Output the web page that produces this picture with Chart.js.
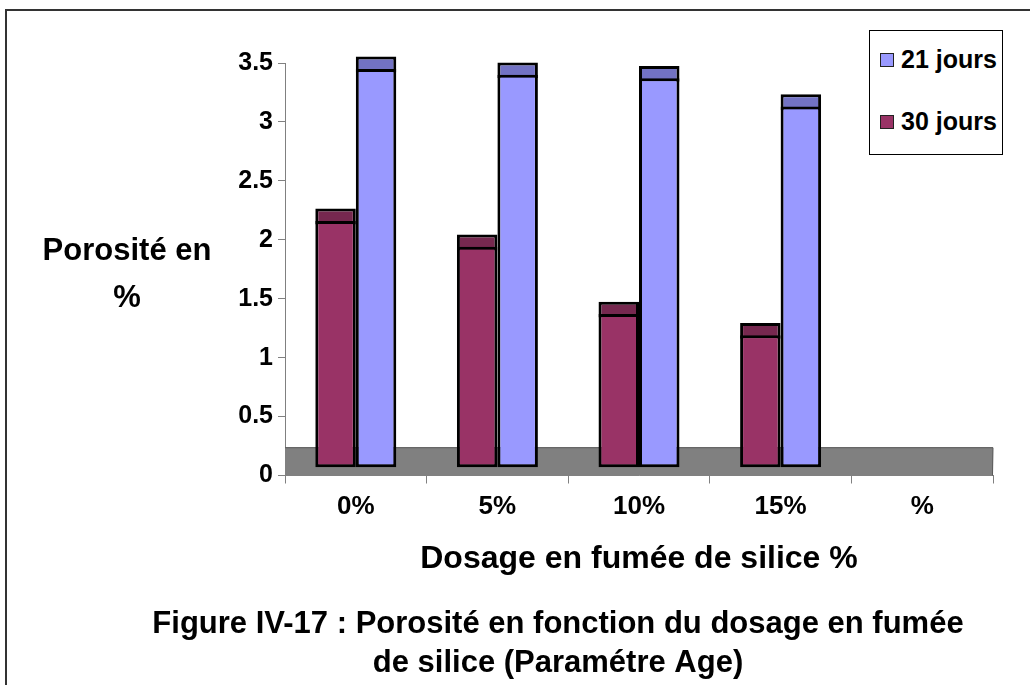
<!DOCTYPE html>
<html>
<head>
<meta charset="utf-8">
<script src="https://cdn.jsdelivr.net/npm/chart.js@4/dist/chart.umd.min.js"></script>
<style>
    html, body { margin: 0; padding: 0; background: #fff; overflow: hidden; }
    #wrap { position: relative; width: 1030px; height: 685px; }
    #frame { position: absolute; left: 5px; top: 9px; width: 1100px; height: 800px;
             border: 2px solid #333; pointer-events: none; }
    #legend { position: absolute; left: 869px; top: 30px; width: 132px; height: 123px;
              border: 1px solid #000; background: #fff;
              font: bold 25px "Liberation Sans", Arial, sans-serif; color: #000; }
    #legend div { position: absolute; left: 10px; height: 28px; line-height: 28px; white-space: nowrap; }
    #legend span { display: inline-block; width: 12px; height: 12px; border: 1.5px solid #222;
                   margin-right: 7px; vertical-align: 1px; }
</style>
</head>
<body>
<div id="wrap">
    <canvas id="chart" width="1030" height="685"></canvas>
    <div id="legend"></div>
    <div id="frame"></div>
</div>
<script>
const categories = ['0%', '5%', '10%', '15%', '%'];
const jours21 = [3.45, 3.40, 3.37, 3.13, null];
const jours30 = [2.16, 1.94, 1.37, 1.19, null];
const legendLabels = ['21 jours', '30 jours'];

// 3D look of the old spreadsheet chart
const barBase = 0.07;
const capDepth = 0.105;
const capOverlap = 0.03; // cap tucks under the front face border
const floorTop = 0.24;

const blueFront = '#9999FF';
const blueCap = '#7272C4';
const redFront = '#993366';
const redCap = '#76284F';

const fontFamily = '"Liberation Sans", Arial, sans-serif';

function fronts(values) {
    return values.map(v => v == null ? null : [barBase, v]);
}

function caps(values) {
    return values.map(v => v == null ? null : [v - capOverlap, v + capDepth]);
}

function barSet(label, data, color, stack, skipped) {
    return {
        label: label,
        data: data,
        stack: stack,
        backgroundColor: color,
        borderColor: '#000',
        borderWidth: 3,
        borderSkipped: skipped,
        categoryPercentage: 0.572,
        barPercentage: 1.0,
        clip: false,
    };
}

// gray floor under the bars
const floorPlugin = {
    id: 'floor',
    beforeDatasetsDraw(chart) {
        const { ctx, chartArea, scales } = chart;
        const y0 = scales.y.getPixelForValue(0);
        const y1 = scales.y.getPixelForValue(floorTop);
        ctx.save();
        ctx.fillStyle = '#808080';
        ctx.fillRect(chartArea.left, y1, chartArea.right - chartArea.left, y0 - y1);
        ctx.strokeStyle = '#5a5a5a';
        ctx.lineWidth = 1;
        ctx.beginPath();
        ctx.moveTo(chartArea.left, y1 + 0.5);
        ctx.lineTo(chartArea.right, y1 + 0.5);
        ctx.lineTo(chartArea.right - 0.5, y0);
        ctx.stroke();
        ctx.restore();
    }
};

// horizontal y axis title, left of the ticks
const yTitlePlugin = {
    id: 'yTitle',
    afterDraw(chart) {
        const { ctx, chartArea } = chart;
        const mid = (chartArea.top + chartArea.bottom) / 2;
        ctx.save();
        ctx.font = 'bold 31px ' + fontFamily;
        ctx.fillStyle = '#000';
        ctx.textAlign = 'center';
        ctx.textBaseline = 'middle';
        ctx.fillText('Porosité en', 127, mid - 18);
        ctx.fillText('%', 127, mid + 29);
        ctx.restore();
    }
};

const ctx = document.getElementById('chart');
const chart = new Chart(ctx, {
    type: 'bar',
    data: {
        labels: categories,
        datasets: [
            barSet('30 jours', fronts(jours30), redFront, 's30', false),
            barSet('21 jours', fronts(jours21), blueFront, 's21', false),
            barSet('30 jours cap', caps(jours30), redCap, 's30', 'start'),
            barSet('21 jours cap', caps(jours21), blueCap, 's21', 'start'),
        ],
    },
    options: {
        responsive: false,
        animation: false,
        layout: {
            padding: { left: 123, right: 37, top: 63, bottom: 0 }
        },
        scales: {
            x: {
                z: 1,
                grid: {
                    display: true,
                    drawOnChartArea: false,
                    tickLength: 8,
                    color: '#808080',
                    offset: true,
                },
                border: { display: true, color: '#808080', width: 1 },
                ticks: {
                    color: '#000',
                    padding: 8,
                    font: { family: fontFamily, size: 26, weight: 'bold' },
                },
                title: {
                    display: true,
                    text: 'Dosage en fumée de silice %',
                    color: '#000',
                    font: { family: fontFamily, size: 32, weight: 'bold' },
                    padding: { top: 0, bottom: 14 },
                },
                afterFit(scale) {
                    scale.height = 117;
                },
            },
            y: {
                z: 1,
                stacked: false,
                min: 0,
                max: 3.5,
                grid: {
                    display: true,
                    drawOnChartArea: false,
                    tickLength: 7,
                    color: '#808080',
                },
                border: { display: true, color: '#808080', width: 1 },
                ticks: {
                    stepSize: 0.5,
                    color: '#000',
                    padding: 5,
                    font: { family: fontFamily, size: 25, weight: 'bold' },
                    callback: (value) => value.toString(),
                },
                afterFit(scale) {
                    scale.width = 162;
                },
            },
        },
        plugins: {
            legend: { display: false },
            tooltip: { enabled: false },
            title: {
                display: true,
                position: 'bottom',
                text: ['Figure IV-17 : Porosité en fonction du dosage en fumée',
                       'de silice (Paramétre Age)'],
                color: '#000',
                font: { family: fontFamily, size: 31, weight: 'bold', lineHeight: 39 / 31 },
                padding: { top: 12, bottom: 2.5 },
            },
        },
    },
    plugins: [floorPlugin, yTitlePlugin],
});

// legend box in the top right corner
const legendColors = [blueFront, redFront];
const legendTops = [14, 76];
const legendEl = document.getElementById('legend');
legendLabels.forEach((label, i) => {
    const item = document.createElement('div');
    item.style.top = legendTops[i] + 'px';
    const swatch = document.createElement('span');
    swatch.style.background = legendColors[i];
    item.appendChild(swatch);
    item.appendChild(document.createTextNode(label));
    legendEl.appendChild(item);
});
</script>
</body>
</html>
